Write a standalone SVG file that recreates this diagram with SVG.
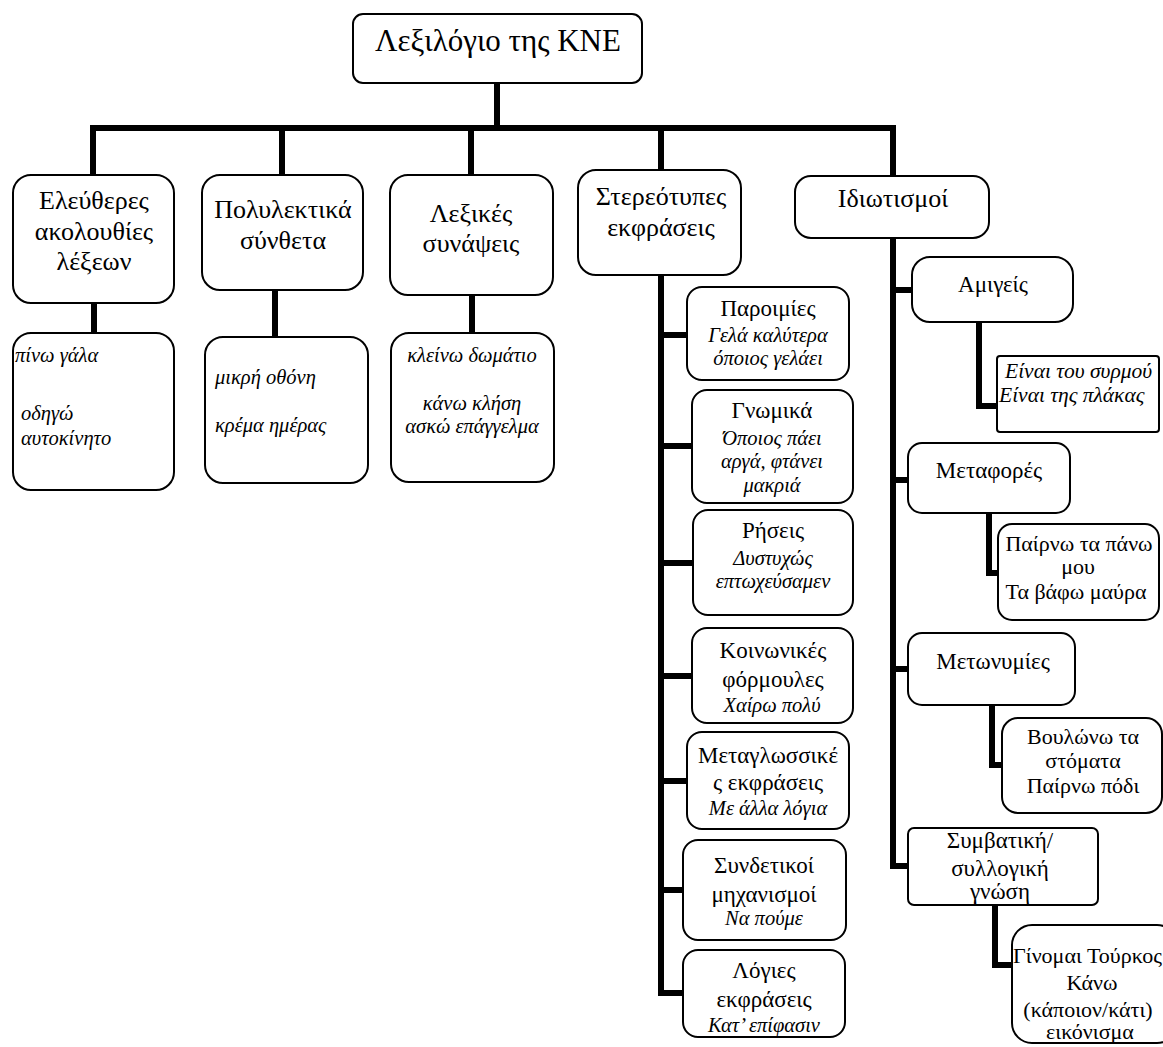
<svg xmlns="http://www.w3.org/2000/svg" width="1163" height="1047" viewBox="0 0 1163 1047">
<style>
.box{fill:#fff;stroke:#000;stroke-width:2}
.conn{fill:none;stroke:#000;stroke-width:6;stroke-linejoin:miter}
.t0{font-size:31px;text-anchor:middle}
.t1{font-size:26px;text-anchor:middle}
.t2{font-size:23px;text-anchor:middle}
.t3{font-size:22px;text-anchor:middle}
.i2{font-size:20.5px;font-style:italic;text-anchor:middle}
.i4{font-size:21.5px;font-style:italic}
.i3{font-size:20.5px;font-style:italic}
.c{text-anchor:middle}
.s{text-anchor:start}
</style>
<rect width="1163" height="1047" fill="#fff"/>
<g id="connectors">
<path class="conn" d="M497,83 V128"/>
<path class="conn" d="M90,128 H896"/>
<path class="conn" d="M93,128 V175 M282,128 V175 M471,128 V175 M661,128 V170 M893,128 V176"/>
<path class="conn" d="M94,303 V333 M275,290 V337 M472,295 V333"/>
<path class="conn" d="M661,275 V993 H683"/>
<path class="conn" d="M661,335 H687 M661,446 H692 M661,563 H693 M661,676 H692 M661,781 H687 M661,890 H683"/>
<path class="conn" d="M893,238 V866 H908"/>
<path class="conn" d="M893,290 H912 M893,480 H908 M893,669 H908"/>
<path class="conn" d="M979,322 V406 H997"/>
<path class="conn" d="M989,513 V573 H998"/>
<path class="conn" d="M992,705 V765 H1002"/>
<path class="conn" d="M995,905 V965 H1012"/>
</g>
<g id="nodes" font-family="Liberation Serif, serif" fill="#000">
<g id="root"><rect class="box" x="353" y="14" width="289" height="69" rx="10"/><text class="t0" x="498" y="51" font-family="Liberation Serif">Λεξιλόγιο της ΚΝΕ</text></g>
<g id="n1"><rect class="box" x="13" y="175" width="161" height="128" rx="18"/><text class="t1" x="94" y="209" font-family="Liberation Serif">Ελεύθερες</text><text class="t1" x="94" y="240" font-family="Liberation Serif">ακολουθίες</text><text class="t1" x="94" y="270" font-family="Liberation Serif">λέξεων</text></g>
<g id="n2"><rect class="box" x="202" y="175" width="161" height="115" rx="18"/><text class="t1" x="283" y="218" font-family="Liberation Serif">Πολυλεκτικά</text><text class="t1" x="283" y="249" font-family="Liberation Serif">σύνθετα</text></g>
<g id="n3"><rect class="box" x="390" y="175" width="163" height="120" rx="18"/><text class="t1" x="471" y="222" font-family="Liberation Serif">Λεξικές</text><text class="t1" x="471" y="252" font-family="Liberation Serif">συνάψεις</text></g>
<g id="n4"><rect class="box" x="578" y="170" width="163" height="105" rx="18"/><text class="t1" x="661" y="205" font-family="Liberation Serif">Στερεότυπες</text><text class="t1" x="661" y="236" font-family="Liberation Serif">εκφράσεις</text></g>
<g id="n5"><rect class="box" x="795" y="176" width="194" height="62" rx="16"/><text class="t1" x="893" y="207" font-family="Liberation Serif">Ιδιωτισμοί</text></g>
<g id="n1a"><rect class="box" x="13" y="333" width="161" height="157" rx="18"/><text class="i3" x="15" y="362" font-family="Liberation Serif">πίνω γάλα</text><text class="i3" x="21" y="420" font-family="Liberation Serif">οδηγώ</text><text class="i3" x="21" y="445" font-family="Liberation Serif">αυτοκίνητο</text></g>
<g id="n2a"><rect class="box" x="205" y="337" width="163" height="146" rx="18"/><text class="i3" x="215" y="384" font-family="Liberation Serif">μικρή οθόνη</text><text class="i3" x="215" y="432" font-family="Liberation Serif">κρέμα ημέρας</text></g>
<g id="n3a"><rect class="box" x="391" y="333" width="163" height="149" rx="18"/><text class="i3 c" x="472" y="362" font-family="Liberation Serif">κλείνω δωμάτιο</text><text class="i3 c" x="472" y="410" font-family="Liberation Serif">κάνω κλήση</text><text class="i3 c" x="472" y="433" font-family="Liberation Serif">ασκώ επάγγελμα</text></g>
<g id="s1"><rect class="box" x="687" y="287" width="162" height="93" rx="15"/><text class="t2" x="768" y="316" font-family="Liberation Serif">Παροιμίες</text><text class="i2" x="768" y="342" font-family="Liberation Serif">Γελά καλύτερα</text><text class="i2" x="768" y="365" font-family="Liberation Serif">όποιος γελάει</text></g>
<g id="s2"><rect class="box" x="692" y="390" width="161" height="113" rx="15"/><text class="t2" x="772" y="418" font-family="Liberation Serif">Γνωμικά</text><text class="i2" x="772" y="445" font-family="Liberation Serif">Όποιος πάει</text><text class="i2" x="772" y="468" font-family="Liberation Serif">αργά, φτάνει</text><text class="i2" x="772" y="492" font-family="Liberation Serif">μακριά</text></g>
<g id="s3"><rect class="box" x="693" y="510" width="160" height="105" rx="15"/><text class="t2" x="773" y="538" font-family="Liberation Serif">Ρήσεις</text><text class="i2" x="773" y="565" font-family="Liberation Serif">Δυστυχώς</text><text class="i2" x="773" y="588" font-family="Liberation Serif">επτωχεύσαμεν</text></g>
<g id="s4"><rect class="box" x="692" y="628" width="161" height="95" rx="15"/><text class="t2" x="773" y="658" font-family="Liberation Serif">Κοινωνικές</text><text class="t2" x="773" y="687" font-family="Liberation Serif">φόρμουλες</text><text class="i2" x="772" y="712" font-family="Liberation Serif">Χαίρω πολύ</text></g>
<g id="s5"><rect class="box" x="687" y="732" width="162" height="97" rx="15"/><text class="t2" x="768" y="763" font-family="Liberation Serif">Μεταγλωσσικέ</text><text class="t2" x="768" y="790" font-family="Liberation Serif">ς εκφράσεις</text><text class="i2" x="768" y="815" font-family="Liberation Serif">Με άλλα λόγια</text></g>
<g id="s6"><rect class="box" x="683" y="840" width="163" height="100" rx="15"/><text class="t2" x="764" y="873" font-family="Liberation Serif">Συνδετικοί</text><text class="t2" x="764" y="902" font-family="Liberation Serif">μηχανισμοί</text><text class="i2" x="764" y="925" font-family="Liberation Serif">Να πούμε</text></g>
<g id="s7"><rect class="box" x="683" y="950" width="162" height="87" rx="15"/><text class="t2" x="764" y="978" font-family="Liberation Serif">Λόγιες</text><text class="t2" x="764" y="1007" font-family="Liberation Serif">εκφράσεις</text><text class="i2" x="764" y="1032" font-family="Liberation Serif">Κατ’ επίφασιν</text></g>
<g id="i1"><rect class="box" x="912" y="257" width="161" height="65" rx="18"/><text class="t2" x="993" y="292" font-family="Liberation Serif">Αμιγείς</text></g>
<g id="i1a"><rect class="box" x="997" y="356" width="162" height="76" rx="3"/><text class="i4 s" x="1005" y="378" font-family="Liberation Serif">Είναι του συρμού</text><text class="i4 s" x="999" y="402" font-family="Liberation Serif">Είναι της πλάκας</text></g>
<g id="i2"><rect class="box" x="908" y="443" width="162" height="70" rx="14"/><text class="t2" x="989" y="478" font-family="Liberation Serif">Μεταφορές</text></g>
<g id="i2a"><rect class="box" x="998" y="524" width="161" height="96" rx="14"/><text class="t3" x="1079" y="551" font-family="Liberation Serif">Παίρνω τα πάνω</text><text class="t3" x="1078" y="574" font-family="Liberation Serif">μου</text><text class="t3" x="1076" y="599" font-family="Liberation Serif">Τα βάφω μαύρα</text></g>
<g id="i3"><rect class="box" x="908" y="633" width="167" height="72" rx="14"/><text class="t2" x="993" y="669" font-family="Liberation Serif">Μετωνυμίες</text></g>
<g id="i3a"><rect class="box" x="1002" y="718" width="160" height="95" rx="16"/><text class="t3" x="1083" y="744" font-family="Liberation Serif">Βουλώνω τα</text><text class="t3" x="1083" y="768" font-family="Liberation Serif">στόματα</text><text class="t3" x="1083" y="793" font-family="Liberation Serif">Παίρνω πόδι</text></g>
<g id="i4"><rect class="box" x="908" y="828" width="190" height="77" rx="6"/><text class="t2" x="1000" y="848" font-family="Liberation Serif">Συμβατική/</text><text class="t2" x="1000" y="876" font-family="Liberation Serif">συλλογική</text><text class="t2" x="1000" y="899" font-family="Liberation Serif">γνώση</text></g>
<g id="i4a"><rect class="box" x="1012" y="925" width="165" height="118" rx="20"/><text class="t3 s" x="1013" y="963" font-family="Liberation Serif">Γίνομαι Τούρκος</text><text class="t3" x="1092" y="990" font-family="Liberation Serif">Κάνω</text><text class="t3" x="1088" y="1017" font-family="Liberation Serif">(κάποιον/κάτι)</text><text class="t3" x="1090" y="1039" font-family="Liberation Serif">εικόνισμα</text></g>
</g>
</svg>
